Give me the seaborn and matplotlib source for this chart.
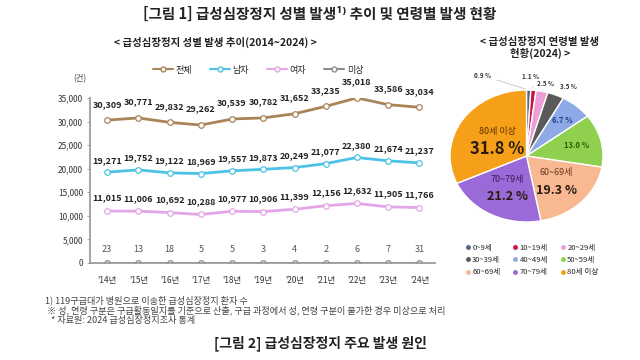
import pandas as pd
import numpy as np
import matplotlib
matplotlib.use('Agg')
import matplotlib.pyplot as plt
import seaborn as sns
from matplotlib.lines import Line2D

# data
years = ["'14년", "'15년", "'16년", "'17년", "'18년", "'19년", "'20년", "'21년", "'22년", "'23년", "'24년"]
total = [30309, 30771, 29832, 29262, 30539, 30782, 31652, 33235, 35018, 33586, 33034]
male = [19271, 19752, 19122, 18969, 19557, 19873, 20249, 21077, 22380, 21674, 21237]
female = [11015, 11006, 10692, 10288, 10977, 10906, 11399, 12156, 12632, 11905, 11766]
unknown = [23, 13, 18, 5, 5, 3, 4, 2, 6, 7, 31]
series_names = ['전체', '남자', '여자', '미상']
series_colors = ['#a88458', '#4cc3e6', '#e4a6e6', '#8c8c8c']

age_groups = ['0~9세', '10~19세', '20~29세', '30~39세', '40~49세', '50~59세', '60~69세', '70~79세', '80세 이상']
age_share = [0.9, 1.1, 2.5, 3.5, 6.7, 13.0, 19.3, 21.2, 31.8]
age_colors = ['#4e6684', '#c8173f', '#ec9fd6', '#5a5a5a', '#8eaae6', '#8fd14f', '#f7b892', '#9a6ad8', '#f6a01a']

sns.set_theme(style='white')
plt.rcParams['font.family'] = ['Noto Sans CJK KR', 'DejaVu Sans']

fig = plt.figure(figsize=(6.4, 3.6), dpi=100)
W, H = 640, 360

# ---- line chart ----
ax = fig.add_axes([90 / W, (H - 263) / H, 345 / W, 165 / H])
x = np.arange(len(years))
df = pd.DataFrame({'x': np.tile(x, 4),
                   'value': total + male + female + unknown,
                   'series': np.repeat(series_names, len(years))})
offsets = [16, 12, 13, 13]
for name, color, off in zip(series_names, series_colors, offsets):
    sub = df[df['series'] == name]
    sns.lineplot(data=sub, x='x', y='value', ax=ax, color=color, lw=2 if name != '미상' else 1.2,
                 marker='o', markersize=4, markerfacecolor='white', markeredgecolor=color,
                 markeredgewidth=0.9, legend=False)
    for xi, v in zip(sub['x'], sub['value']):
        lab = f'{v:,}'
        ax.annotate(lab, (xi, v), xytext=(0, off), textcoords='offset pixels',
                    ha='center', va='center', fontsize=6.5,
                    fontweight='bold' if name != '미상' else 'normal',
                    color='#222222' if name != '미상' else '#555555')

ax.set_xlim(-0.55, 10.5)
ax.set_ylim(0, 35000)
ax.set_yticks(range(0, 35001, 5000))
ax.set_yticklabels([f'{t:,}' for t in range(0, 35001, 5000)], fontsize=6, color='#333333')
ax.set_xticks(x)
ax.set_xticklabels(years, fontsize=6, color='#333333')
ax.tick_params(axis='y', length=2, width=0.6, color='#999999', pad=3, left=True)
ax.tick_params(axis='x', length=0, pad=9)
for s in ['top', 'right']:
    ax.spines[s].set_visible(False)
ax.spines['left'].set_color('#999999')
ax.spines['bottom'].set_color('#999999')
ax.set_xlabel('')
ax.set_ylabel('')

handles = [Line2D([0], [0], color=c, lw=1.5, marker='o', markersize=3.5,
                  markerfacecolor='white', markeredgecolor=c) for c in series_colors]
fig.legend(handles, series_names, loc='center', bbox_to_anchor=(258 / W, 1 - 70 / H),
           ncol=4, frameon=False, fontsize=6.5, handlelength=2.2, columnspacing=2.0,
           handletextpad=0.3)
fig.text(80 / W, 1 - 79 / H, '(건)', fontsize=6, color='#444444', ha='center', va='center')

# ---- pie chart ----
pax = fig.add_axes([450 / W, (H - 222) / H, 153 / W, 132 / H])
wedges, _ = pax.pie(age_share, colors=age_colors, startangle=90, counterclock=False,
                    wedgeprops=dict(edgecolor='white', linewidth=1.0))
pax.set_aspect('auto')
pax.set_xlim(-1, 1)
pax.set_ylim(-1, 1)

def wedge_point(i, r):
    w = wedges[i]
    ang = np.deg2rad((w.theta1 + w.theta2) / 2)
    return r * np.cos(ang), r * np.sin(ang)

inside = {4: ('6.7 %', '#1f3f8a', 0.72), 5: ('13.0 %', '#2d5a00', 0.68)}
for i, (txt, col, r) in inside.items():
    px, py = wedge_point(i, r)
    pax.text(px, py, txt, ha='center', va='center', fontsize=5.5, fontweight='bold', color=col)

big = {6: ('#6b3a1a', 0.55), 7: ('#3a1a5a', 0.55), 8: ('#5a3000', 0.45)}
for i, (col, r) in big.items():
    px, py = wedge_point(i, r)
    fs = 12 if i == 8 else 9
    pax.text(px, py + 0.13, age_groups[i], ha='center', va='center', fontsize=6.5, color=col)
    pax.text(px, py - 0.13, f'{age_share[i]:.1f} %', ha='center', va='center',
             fontsize=fs, fontweight='bold', color='#2a1a10')

outer = [(0, -0.58, 1.22), (1, 0.05, 1.2), (2, 0.25, 1.1), (3, 0.55, 1.05)]
for i, tx, ty in outer:
    px, py = wedge_point(i, 1.0)
    pax.annotate(f'{age_share[i]:.1f} %', (px, py), xytext=(tx, ty), ha='center', va='center',
                 fontsize=4.5, fontweight='bold', color='#333333',
                 arrowprops=dict(arrowstyle='-', color='#bbbbbb', lw=0.5))

# legend filled row by row (matplotlib fills columns first)
order = [0, 3, 6, 1, 4, 7, 2, 5, 8]
ph = [Line2D([0], [0], marker='o', color='none', markerfacecolor=age_colors[k],
             markeredgecolor=age_colors[k], markersize=2.5) for k in order]
fig.legend(ph, [age_groups[k] for k in order], loc='center', bbox_to_anchor=(532 / W, 1 - 260 / H),
           ncol=3, frameon=False, fontsize=5.5, handlelength=0.6, handletextpad=0.3,
           columnspacing=1.6, labelspacing=0.55)

# ---- titles and notes ----
fig.text(320 / W, 1 - 14 / H, '[그림 1] 급성심장정지 성별 발생¹⁾ 추이 및 연령별 발생 현황',
         ha='center', va='center', fontsize=10.5, fontweight='bold', color='#222222')
fig.text(215 / W, 1 - 42 / H, '< 급성심장정지 성별 발생 추이(2014~2024) >',
         ha='center', va='center', fontsize=7.5, fontweight='bold', color='#222222')
fig.text(540 / W, 1 - 48 / H, '< 급성심장정지 연령별 발생\n현황(2024) >',
         ha='center', va='center', fontsize=7.5, fontweight='bold', color='#222222', linespacing=1.1)
notes = ['1) 119구급대가 병원으로 이송한 급성심장정지 환자 수',
         ' ※ 성, 연령 구분은 구급활동일지를 기준으로 산출, 구급 과정에서 성, 연령 구분이 불가한 경우 미상으로 처리',
         '   * 자료원: 2024 급성심장정지조사 통계']
for k, n in enumerate(notes):
    fig.text(45 / W, 1 - (300 + k * 10.5) / H, n, ha='left', va='center', fontsize=6.6, color='#444444')
fig.text(320 / W, 1 - 343 / H, '[그림 2] 급성심장정지 주요 발생 원인',
         ha='center', va='center', fontsize=10, fontweight='bold', color='#222222')

fig.savefig('out.png', dpi=100, facecolor='white')
